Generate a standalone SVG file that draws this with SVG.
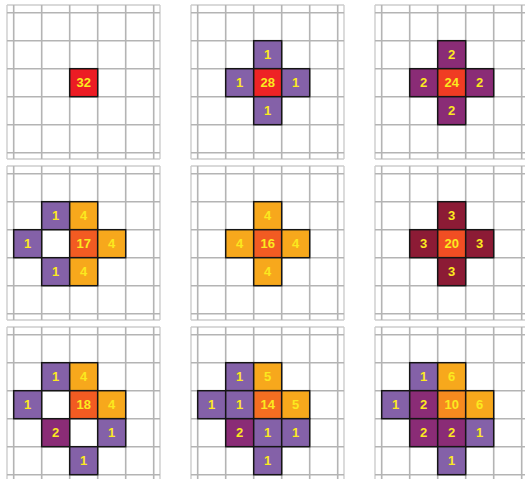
<svg xmlns="http://www.w3.org/2000/svg" xmlns:xlink="http://www.w3.org/1999/xlink" width="525" height="479" viewBox="0 0 525 479">
<style>
.g{fill:none;stroke:#b4b4b4;stroke-width:1.6}
.ge{fill:none;stroke:#cdcdcd;stroke-width:1.4}
rect.c{stroke:#151515;stroke-width:1.5}
.p{fill:#8461a8}.m{fill:#8a2c76}.r{fill:#8c1b35}.o{fill:#f7a81c}
.c32{fill:#ec1c24}.c28{fill:#ee2325}.c24{fill:#f03c23}.c20{fill:#f14e23}.cc{fill:#f25b22}.c14{fill:#f46e21}.c10{fill:#f68a1f}
text{font-family:"Liberation Sans",Arial,sans-serif;font-weight:bold;font-size:13px;fill:#fbe91f;text-anchor:middle;dominant-baseline:central}
</style>
<defs>
<g id="grid">
<path class="ge" d="M7 5V159M160 5V159M7 5H160M7 159H160"/>
<path class="g" d="M13.7 5V159M41.7 5V159M69.7 5V159M97.7 5V159M125.7 5V159M153.7 5V159M7 12.7H160M7 40.7H160M7 68.7H160M7 96.7H160M7 124.7H160M7 152.7H160"/>
</g>
</defs>
<rect width="525" height="479" fill="#fff"/>

<g id="panel-1">
<use xlink:href="#grid"/>
<rect class="c c32" x="69.7" y="68.7" width="28" height="28"/><text x="83.7" y="82.7">32</text>
</g>

<g id="panel-2" transform="translate(184,0)">
<use xlink:href="#grid"/>
<rect class="c p" x="69.7" y="40.7" width="28" height="28"/><text x="83.7" y="54.7">1</text>
<rect class="c p" x="41.7" y="68.7" width="28" height="28"/><text x="55.7" y="82.7">1</text>
<rect class="c c28" x="69.7" y="68.7" width="28" height="28"/><text x="83.7" y="82.7">28</text>
<rect class="c p" x="97.7" y="68.7" width="28" height="28"/><text x="111.7" y="82.7">1</text>
<rect class="c p" x="69.7" y="96.7" width="28" height="28"/><text x="83.7" y="110.7">1</text>
</g>

<g id="panel-3" transform="translate(368,0)">
<use xlink:href="#grid"/>
<rect class="c m" x="69.7" y="40.7" width="28" height="28"/><text x="83.7" y="54.7">2</text>
<rect class="c m" x="41.7" y="68.7" width="28" height="28"/><text x="55.7" y="82.7">2</text>
<rect class="c c24" x="69.7" y="68.7" width="28" height="28"/><text x="83.7" y="82.7">24</text>
<rect class="c m" x="97.7" y="68.7" width="28" height="28"/><text x="111.7" y="82.7">2</text>
<rect class="c m" x="69.7" y="96.7" width="28" height="28"/><text x="83.7" y="110.7">2</text>
</g>

<g id="panel-4" transform="translate(0,161)">
<use xlink:href="#grid"/>
<rect class="c p" x="41.7" y="40.7" width="28" height="28"/><text x="55.7" y="54.7">1</text>
<rect class="c o" x="69.7" y="40.7" width="28" height="28"/><text x="83.7" y="54.7">4</text>
<rect class="c p" x="13.7" y="68.7" width="28" height="28"/><text x="27.7" y="82.7">1</text>
<rect class="c cc" x="69.7" y="68.7" width="28" height="28"/><text x="83.7" y="82.7">17</text>
<rect class="c o" x="97.7" y="68.7" width="28" height="28"/><text x="111.7" y="82.7">4</text>
<rect class="c p" x="41.7" y="96.7" width="28" height="28"/><text x="55.7" y="110.7">1</text>
<rect class="c o" x="69.7" y="96.7" width="28" height="28"/><text x="83.7" y="110.7">4</text>
</g>

<g id="panel-5" transform="translate(184,161)">
<use xlink:href="#grid"/>
<rect class="c o" x="69.7" y="40.7" width="28" height="28"/><text x="83.7" y="54.7">4</text>
<rect class="c o" x="41.7" y="68.7" width="28" height="28"/><text x="55.7" y="82.7">4</text>
<rect class="c cc" x="69.7" y="68.7" width="28" height="28"/><text x="83.7" y="82.7">16</text>
<rect class="c o" x="97.7" y="68.7" width="28" height="28"/><text x="111.7" y="82.7">4</text>
<rect class="c o" x="69.7" y="96.7" width="28" height="28"/><text x="83.7" y="110.7">4</text>
</g>

<g id="panel-6" transform="translate(368,161)">
<use xlink:href="#grid"/>
<rect class="c r" x="69.7" y="40.7" width="28" height="28"/><text x="83.7" y="54.7">3</text>
<rect class="c r" x="41.7" y="68.7" width="28" height="28"/><text x="55.7" y="82.7">3</text>
<rect class="c c20" x="69.7" y="68.7" width="28" height="28"/><text x="83.7" y="82.7">20</text>
<rect class="c r" x="97.7" y="68.7" width="28" height="28"/><text x="111.7" y="82.7">3</text>
<rect class="c r" x="69.7" y="96.7" width="28" height="28"/><text x="83.7" y="110.7">3</text>
</g>

<g id="panel-7" transform="translate(0,322)">
<use xlink:href="#grid"/>
<rect class="c p" x="41.7" y="40.7" width="28" height="28"/><text x="55.7" y="54.7">1</text>
<rect class="c o" x="69.7" y="40.7" width="28" height="28"/><text x="83.7" y="54.7">4</text>
<rect class="c p" x="13.7" y="68.7" width="28" height="28"/><text x="27.7" y="82.7">1</text>
<rect class="c cc" x="69.7" y="68.7" width="28" height="28"/><text x="83.7" y="82.7">18</text>
<rect class="c o" x="97.7" y="68.7" width="28" height="28"/><text x="111.7" y="82.7">4</text>
<rect class="c m" x="41.7" y="96.7" width="28" height="28"/><text x="55.7" y="110.7">2</text>
<rect class="c p" x="97.7" y="96.7" width="28" height="28"/><text x="111.7" y="110.7">1</text>
<rect class="c p" x="69.7" y="124.7" width="28" height="28"/><text x="83.7" y="138.7">1</text>
</g>

<g id="panel-8" transform="translate(184,322)">
<use xlink:href="#grid"/>
<rect class="c p" x="41.7" y="40.7" width="28" height="28"/><text x="55.7" y="54.7">1</text>
<rect class="c o" x="69.7" y="40.7" width="28" height="28"/><text x="83.7" y="54.7">5</text>
<rect class="c p" x="13.7" y="68.7" width="28" height="28"/><text x="27.7" y="82.7">1</text>
<rect class="c p" x="41.7" y="68.7" width="28" height="28"/><text x="55.7" y="82.7">1</text>
<rect class="c c14" x="69.7" y="68.7" width="28" height="28"/><text x="83.7" y="82.7">14</text>
<rect class="c o" x="97.7" y="68.7" width="28" height="28"/><text x="111.7" y="82.7">5</text>
<rect class="c m" x="41.7" y="96.7" width="28" height="28"/><text x="55.7" y="110.7">2</text>
<rect class="c p" x="69.7" y="96.7" width="28" height="28"/><text x="83.7" y="110.7">1</text>
<rect class="c p" x="97.7" y="96.7" width="28" height="28"/><text x="111.7" y="110.7">1</text>
<rect class="c p" x="69.7" y="124.7" width="28" height="28"/><text x="83.7" y="138.7">1</text>
</g>

<g id="panel-9" transform="translate(368,322)">
<use xlink:href="#grid"/>
<rect class="c p" x="41.7" y="40.7" width="28" height="28"/><text x="55.7" y="54.7">1</text>
<rect class="c o" x="69.7" y="40.7" width="28" height="28"/><text x="83.7" y="54.7">6</text>
<rect class="c p" x="13.7" y="68.7" width="28" height="28"/><text x="27.7" y="82.7">1</text>
<rect class="c m" x="41.7" y="68.7" width="28" height="28"/><text x="55.7" y="82.7">2</text>
<rect class="c c10" x="69.7" y="68.7" width="28" height="28"/><text x="83.7" y="82.7">10</text>
<rect class="c o" x="97.7" y="68.7" width="28" height="28"/><text x="111.7" y="82.7">6</text>
<rect class="c m" x="41.7" y="96.7" width="28" height="28"/><text x="55.7" y="110.7">2</text>
<rect class="c m" x="69.7" y="96.7" width="28" height="28"/><text x="83.7" y="110.7">2</text>
<rect class="c p" x="97.7" y="96.7" width="28" height="28"/><text x="111.7" y="110.7">1</text>
<rect class="c p" x="69.7" y="124.7" width="28" height="28"/><text x="83.7" y="138.7">1</text>
</g>
</svg>
